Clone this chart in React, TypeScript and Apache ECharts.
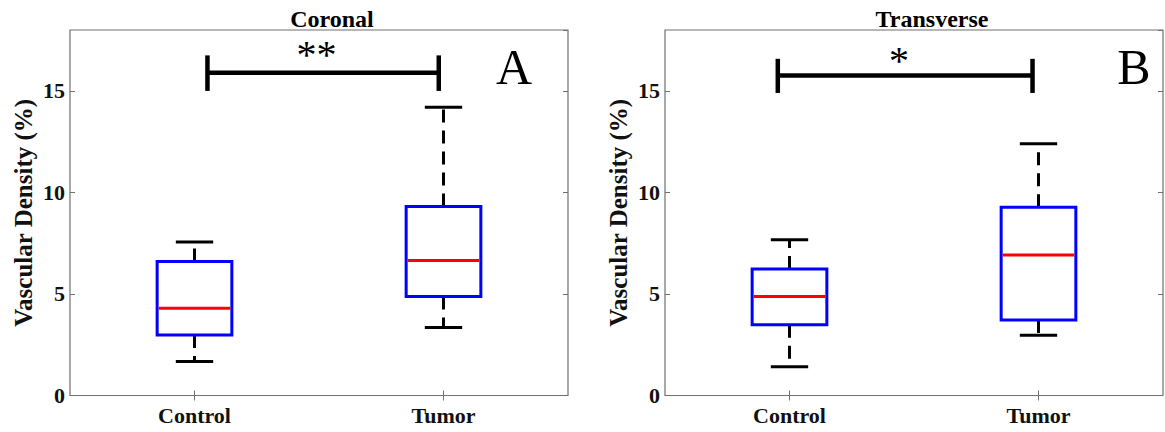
import React, { useEffect, useRef } from "react";
import * as echarts from "echarts";

// ---------- data ----------
const categories = ["Control", "Tumor"];
// [min, q1, median, q3, max]
const coronalStats = [
  [1.68, 2.98, 4.3, 6.6, 7.56],
  [3.35, 4.87, 6.65, 9.31, 14.2],
];
const transverseStats = [
  [1.42, 3.48, 4.87, 6.23, 7.67],
  [2.97, 3.72, 6.92, 9.27, 12.4],
];
const panelTitles = ["Coronal", "Transverse"];
const panelLetters = ["A", "B"];
const sigLabels = ["**", "*"];
// significance bracket: [leftCat, leftOffset, rightCat, rightOffset, barY, capTop, capBottom, labelCat, labelOffset, labelY]
const coronalSig = [0, 0.052, 1, -0.019, 15.9, 16.75, 15.0, 0, 0.49, 16.77];
const transverseSig = [0, -0.047, 1, -0.024, 15.76, 16.58, 14.9, 0, 0.44, 16.48];
const yMin = 0;
const yMax = 18;
const yInterval = 5;

const SERIF = "'Liberation Serif', 'Times New Roman', Times, serif";

function boxRender(params: any, api: any) {
  const xi = api.value(0);
  const bandW = api.size([1, 0])[0];
  const cx = api.coord([xi, 0])[0];
  const pMin = api.coord([xi, api.value(1)])[1];
  const pQ1 = api.coord([xi, api.value(2)])[1];
  const pMed = api.coord([xi, api.value(3)])[1];
  const pQ3 = api.coord([xi, api.value(4)])[1];
  const pMax = api.coord([xi, api.value(5)])[1];
  const boxW = bandW * 0.3;
  const capW = bandW * 0.15;
  const black = { stroke: "#000", lineWidth: 3 };
  return {
    type: "group",
    children: [
      { type: "line", shape: { x1: cx, y1: pQ3, x2: cx, y2: pMax }, style: { ...black, lineDash: [13, 8] } },
      { type: "line", shape: { x1: cx, y1: pQ1, x2: cx, y2: pMin }, style: { ...black, lineDash: [13, 8] } },
      { type: "line", shape: { x1: cx - capW / 2, y1: pMax, x2: cx + capW / 2, y2: pMax }, style: black },
      { type: "line", shape: { x1: cx - capW / 2, y1: pMin, x2: cx + capW / 2, y2: pMin }, style: black },
      {
        type: "rect",
        shape: { x: cx - boxW / 2, y: pQ3, width: boxW, height: pQ1 - pQ3 },
        style: { fill: "none", stroke: "#0000ff", lineWidth: 3 },
      },
      {
        type: "line",
        shape: { x1: cx - boxW / 2 + 1.5, y1: pMed, x2: cx + boxW / 2 - 1.5, y2: pMed },
        style: { stroke: "#ff0000", lineWidth: 3 },
      },
    ],
  };
}

function makeSigRender(label: string) {
  return (params: any, api: any) => {
    const bandW = api.size([1, 0])[0];
    const xl = api.coord([api.value(0), 0])[0] + api.value(1) * bandW;
    const xr = api.coord([api.value(2), 0])[0] + api.value(3) * bandW;
    const yb = api.coord([0, api.value(4)])[1];
    const yt = api.coord([0, api.value(5)])[1];
    const ybot = api.coord([0, api.value(6)])[1];
    const lx = api.coord([api.value(7), 0])[0] + api.value(8) * bandW;
    const ly = api.coord([0, api.value(9)])[1];
    const st = { stroke: "#000", lineWidth: 4.5 };
    return {
      type: "group",
      children: [
        { type: "line", shape: { x1: xl, y1: yb, x2: xr, y2: yb }, style: st },
        { type: "line", shape: { x1: xl, y1: yt, x2: xl, y2: ybot }, style: st },
        { type: "line", shape: { x1: xr, y1: yt, x2: xr, y2: ybot }, style: st },
        {
          type: "text",
          style: {
            text: label,
            x: lx,
            y: ly,
            textAlign: "center",
            textVerticalAlign: "middle",
            align: "center",
            verticalAlign: "middle",
            fontSize: 40,
            fontFamily: SERIF,
            fill: "#000",
          },
        },
      ],
    };
  };
}

const GRID_LEFTS = [70, 665];
const GRID_TOP = 30;
const GRID_W = 498;
const GRID_H = 365.5;

export default function App() {
  const ref = useRef<HTMLDivElement>(null);
  useEffect(() => {
    document.body.style.margin = "0";
    if (!ref.current) return;
    const chart = echarts.init(ref.current, null, { renderer: "svg" });
    const statsList = [coronalStats, transverseStats];
    const sigList = [coronalSig, transverseSig];

    const grids: any[] = [];
    const xAxes: any[] = [];
    const yAxes: any[] = [];
    const series: any[] = [];
    const graphics: any[] = [];
    const titleX = [332, 932];
    const letterX = [514, 1134];

    for (let p = 0; p < 2; p++) {
      grids.push({
        left: GRID_LEFTS[p],
        top: GRID_TOP,
        width: GRID_W,
        height: GRID_H,
        show: true,
        borderColor: "#707070",
        borderWidth: 1.2,
        backgroundColor: "#fff",
      });
      const xBase = {
        type: "category",
        data: categories,
        gridIndex: p,
        boundaryGap: true,
        axisLine: { show: false },
        axisTick: { show: true, inside: true, alignWithLabel: true, length: 5, lineStyle: { color: "#707070" } },
        splitLine: { show: false },
      };
      xAxes.push({
        ...xBase,
        position: "bottom",
        axisLabel: { show: true, fontFamily: SERIF, fontWeight: "bold", fontSize: 22, color: "#111", margin: 9 },
      });
      xAxes.push({ ...xBase, position: "top", axisLabel: { show: false } });
      const yBase = {
        type: "value",
        gridIndex: p,
        min: yMin,
        max: yMax,
        interval: yInterval,
        axisLine: { show: false },
        axisTick: { show: true, inside: true, length: 5, lineStyle: { color: "#707070" } },
        splitLine: { show: false },
      };
      yAxes.push({
        ...yBase,
        position: "left",
        name: "Vascular Density (%)",
        nameLocation: "middle",
        nameGap: 34,
        nameTextStyle: { fontFamily: SERIF, fontWeight: "bold", fontSize: 25, color: "#111" },
        axisLabel: { show: true, showMaxLabel: false, fontFamily: SERIF, fontWeight: "bold", fontSize: 22, color: "#111", margin: 5 },
      });
      yAxes.push({ ...yBase, position: "right", axisLabel: { show: false } });

      series.push({
        type: "custom",
        xAxisIndex: p * 2,
        yAxisIndex: p * 2,
        renderItem: boxRender,
        encode: { x: 0, y: [1, 2, 3, 4, 5] },
        data: statsList[p].map((s, i) => [i, ...s]),
        silent: true,
      });
      series.push({
        type: "custom",
        xAxisIndex: p * 2,
        yAxisIndex: p * 2,
        renderItem: makeSigRender(sigLabels[p]),
        encode: { x: [0, 2], y: [4, 5, 6] },
        data: [sigList[p]],
        silent: true,
      });

      graphics.push({
        type: "text",
        x: titleX[p],
        y: 18.5,
        style: {
          text: panelTitles[p],
          textAlign: "center",
          textVerticalAlign: "middle",
          fontFamily: SERIF,
          fontWeight: "bold",
          fontSize: 24,
          fill: "#000",
        },
      });
      graphics.push({
        type: "text",
        x: letterX[p],
        y: 66.5,
        style: {
          text: panelLetters[p],
          textAlign: "center",
          textVerticalAlign: "middle",
          fontFamily: SERIF,
          fontSize: 50,
          fill: "#000",
        },
      });
    }

    chart.setOption({
      animation: false,
      backgroundColor: "#fff",
      grid: grids,
      xAxis: xAxes,
      yAxis: yAxes,
      series,
      graphic: graphics,
    });
    return () => chart.dispose();
  }, []);
  return <div ref={ref} style={{ width: 1165, height: 432 }} />;
}
